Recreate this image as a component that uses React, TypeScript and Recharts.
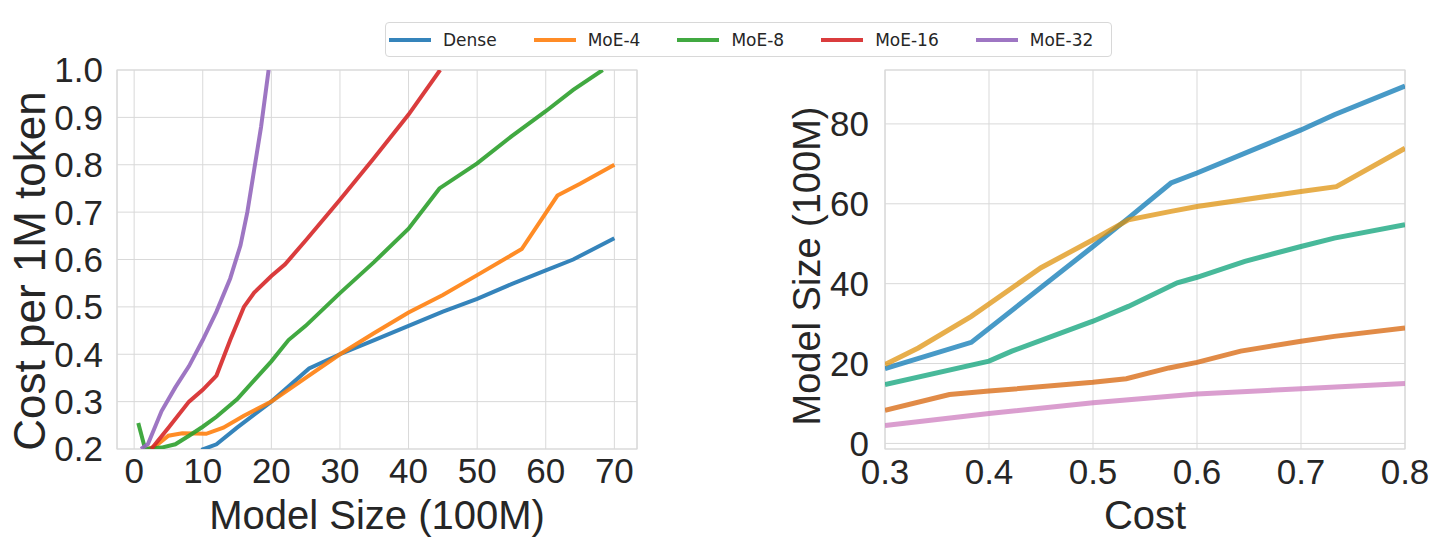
import { LineChart, Line, XAxis, YAxis, CartesianGrid, ReferenceArea } from "recharts";

// ---- left panel: cost per 1M token vs model size ----
const seriesNames = ["Dense", "MoE-4", "MoE-8", "MoE-16", "MoE-32"];

const denseSize = [9.8, 12, 15, 20, 25.5, 30, 35, 40, 45, 50, 55, 60, 64, 70];
const denseCost = [0.198, 0.21, 0.245, 0.3, 0.37, 0.4, 0.43, 0.46, 0.49, 0.517, 0.548, 0.577, 0.6, 0.645];

const moe4Size = [2, 3, 5, 7, 10.5, 13, 16, 20, 25, 30, 35, 40, 45, 50, 56.5, 61.7, 65, 70];
const moe4Cost = [0.2, 0.205, 0.228, 0.233, 0.232, 0.245, 0.27, 0.3, 0.35, 0.4, 0.445, 0.488, 0.525, 0.567, 0.622, 0.735, 0.76, 0.8];

const moe8Size = [0.6, 1.6, 4, 6, 8, 10, 12, 15, 20, 22.5, 25, 30, 35, 40, 44.5, 50, 55, 60, 64, 68.3];
const moe8Cost = [0.255, 0.2, 0.203, 0.21, 0.228, 0.247, 0.268, 0.305, 0.385, 0.43, 0.46, 0.529, 0.595, 0.665, 0.75, 0.803, 0.86, 0.913, 0.958, 1.0];

const moe16Size = [2.5, 5, 8, 10, 12, 14, 16, 17.5, 20, 22, 25, 30, 35, 40, 44.6];
const moe16Cost = [0.2, 0.245, 0.3, 0.325, 0.355, 0.43, 0.5, 0.53, 0.565, 0.59, 0.64, 0.726, 0.815, 0.906, 1.0];

const moe32Size = [1, 2, 4, 6, 8, 10, 12, 14, 15.5, 16.5, 17.5, 18.5, 19.6];
const moe32Cost = [0.2, 0.21, 0.28, 0.33, 0.375, 0.43, 0.49, 0.56, 0.63, 0.7, 0.79, 0.88, 1.0];

const leftXTicks = [0, 10, 20, 30, 40, 50, 60, 70];
const leftYTicks = [0.2, 0.3, 0.4, 0.5, 0.6, 0.7, 0.8, 0.9, 1.0];

// ---- right panel: model size vs cost ----
const denseCostR = [0.3, 0.383, 0.5, 0.534, 0.575, 0.6, 0.7, 0.732, 0.8];
const denseSizeR = [18.7, 25.3, 49.3, 56.4, 65.2, 67.7, 78.5, 82.3, 89.5];

const moe4CostR = [0.3, 0.332, 0.383, 0.45, 0.5, 0.534, 0.575, 0.6, 0.7, 0.734, 0.8];
const moe4SizeR = [19.75, 23.9, 31.8, 44, 51, 56, 58.1, 59.3, 63.1, 64.3, 73.9];

const moe8CostR = [0.3, 0.4, 0.422, 0.5, 0.534, 0.581, 0.6, 0.646, 0.7, 0.732, 0.8];
const moe8SizeR = [14.75, 20.6, 23.1, 30.6, 34.3, 40.2, 41.6, 45.6, 49.3, 51.4, 54.75];

const moe16CostR = [0.3, 0.362, 0.4, 0.5, 0.532, 0.573, 0.6, 0.642, 0.7, 0.732, 0.8];
const moe16SizeR = [8.3, 12.25, 13.1, 15.3, 16.2, 18.9, 20.3, 23.1, 25.6, 26.8, 28.9];

const moe32CostR = [0.3, 0.4, 0.5, 0.6, 0.7, 0.8];
const moe32SizeR = [4.5, 7.5, 10.2, 12.4, 13.7, 15];

const rightXTicks = [0.3, 0.4, 0.5, 0.6, 0.7, 0.8];
const rightYTicks = [0, 20, 40, 60, 80];

const tab10 = ["#1f77b4", "#ff7f0e", "#2ca02c", "#d62728", "#9467bd"];
const colorblind = ["#0173b2", "#de8f05", "#029e73", "#d55e00", "#cc78bc"];

const pts = (xs: number[], ys: number[]) => xs.map((x, i) => ({ x, y: ys[i] }));

const leftSeries = [
  pts(denseSize, denseCost),
  pts(moe4Size, moe4Cost),
  pts(moe8Size, moe8Cost),
  pts(moe16Size, moe16Cost),
  pts(moe32Size, moe32Cost),
];
const rightSeries = [
  pts(denseCostR, denseSizeR),
  pts(moe4CostR, moe4SizeR),
  pts(moe8CostR, moe8SizeR),
  pts(moe16CostR, moe16SizeR),
  pts(moe32CostR, moe32SizeR),
];

const FONT = "'Liberation Sans', Arial, sans-serif";
const INK = "#262626";
const GRID = "#d9d9d9";
const tickStyle = { fontSize: 35, fill: INK, fontFamily: FONT };

function Title({ text, x, y, rotate, size }: { text: string; x: number; y: number; rotate?: boolean; size: number }) {
  return (
    <div
      style={{
        position: "absolute",
        left: x,
        top: y,
        transform: `translate(-50%, -50%)${rotate ? " rotate(-90deg)" : ""}`,
        fontFamily: FONT,
        fontSize: size,
        lineHeight: 1,
        color: INK,
        whiteSpace: "nowrap",
      }}
    >
      {text}
    </div>
  );
}

function Legend() {
  return (
    <div
      style={{
        position: "absolute",
        left: 385,
        top: 22,
        width: 727,
        height: 35,
        boxSizing: "border-box",
        border: "1px solid #d8d8d8",
        borderRadius: 4,
        display: "flex",
        alignItems: "center",
        paddingLeft: 3,
        gap: 37,
        fontFamily: "'DejaVu Sans', sans-serif",
        fontSize: 17,
        color: INK,
        background: "#fff",
      }}
    >
      {seriesNames.map((n, i) => (
        <div key={n} style={{ display: "flex", alignItems: "center" }}>
          <div style={{ width: 42, height: 4, background: tab10[i], opacity: 0.9, marginRight: 12 }} />
          <span>{n}</span>
        </div>
      ))}
    </div>
  );
}

export default function App() {
  return (
    <div style={{ position: "absolute", left: 0, top: 0, width: 1446, height: 553, background: "#fff", overflow: "hidden" }}>
      <div style={{ position: "absolute", left: 0, top: 0 }}>
        <LineChart width={660} height={553} margin={{ top: 70, right: 23, bottom: 0, left: 0 }}>
          <CartesianGrid stroke={GRID} strokeWidth={1} />
          <ReferenceArea x1={-2.5} x2={73.3} y1={0.2} y2={1.0} fill="none" stroke={GRID} strokeWidth={1.2} ifOverflow="visible" />
          <XAxis
            type="number"
            dataKey="x"
            domain={[-2.5, 73.3]}
            ticks={leftXTicks}
            allowDataOverflow
            axisLine={false}
            tickLine={false}
            tickSize={0}
            tickMargin={9}
            height={104}
            tick={tickStyle}
          />
          <YAxis
            type="number"
            dataKey="y"
            domain={[0.2, 1.0]}
            ticks={leftYTicks}
            allowDataOverflow
            axisLine={false}
            tickLine={false}
            tickSize={0}
            tickMargin={14}
            width={117}
            tick={tickStyle}
            tickFormatter={(v: number) => v.toFixed(1)}
          />
          {leftSeries.map((d, i) => (
            <Line
              key={seriesNames[i]}
              data={d}
              dataKey="y"
              name={seriesNames[i]}
              type="linear"
              stroke={tab10[i]}
              strokeOpacity={0.9}
              strokeWidth={4}
              dot={false}
              activeDot={false}
              isAnimationActive={false}
            />
          ))}
        </LineChart>
      </div>

      <div style={{ position: "absolute", left: 740, top: 0 }}>
        <LineChart width={706} height={553} margin={{ top: 70, right: 41, bottom: 0, left: 0 }}>
          <CartesianGrid stroke={GRID} strokeWidth={1} />
          <ReferenceArea x1={0.3} x2={0.8} y1={-1.4} y2={93.5} fill="none" stroke={GRID} strokeWidth={1.2} ifOverflow="visible" />
          <XAxis
            type="number"
            dataKey="x"
            domain={[0.3, 0.8]}
            ticks={rightXTicks}
            allowDataOverflow
            axisLine={false}
            tickLine={false}
            tickSize={0}
            tickMargin={10}
            height={104}
            tick={tickStyle}
            tickFormatter={(v: number) => v.toFixed(1)}
          />
          <YAxis
            type="number"
            dataKey="y"
            domain={[-1.4, 93.5]}
            ticks={rightYTicks}
            allowDataOverflow
            axisLine={false}
            tickLine={false}
            tickSize={0}
            tickMargin={16}
            width={145}
            tick={tickStyle}
          />
          {rightSeries.map((d, i) => (
            <Line
              key={seriesNames[i]}
              data={d}
              dataKey="y"
              name={seriesNames[i]}
              type="linear"
              stroke={colorblind[i]}
              strokeOpacity={0.72}
              strokeWidth={5}
              dot={false}
              activeDot={false}
              isAnimationActive={false}
            />
          ))}
        </LineChart>
      </div>

      <Title text="Model Size (100M)" x={377} y={515} size={40} />
      <Title text="Cost per 1M token" x={30} y={271} size={44} rotate />
      <Title text="Model Size (100M)" x={807} y={266} size={38} rotate />
      <Title text="Cost" x={1145} y={515} size={40} />
      <Legend />
    </div>
  );
}
